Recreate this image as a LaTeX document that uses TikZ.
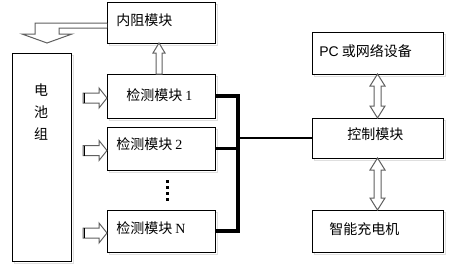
\documentclass[tikz,border=0pt]{standalone}
\usepackage{fontspec}
\newfontfamily\cjk{Noto Sans CJK SC}
\newfontfamily\lat{Liberation Serif}
\newfontfamily\lats{Liberation Sans}
\usetikzlibrary{calc}
\newcommand{\pxbox}[5]{%
  \draw[gray!25, line width=0.75pt] ({#2+2},{#3+2}) rectangle ({#4+2},{#5+2});
  \node[box, minimum width={(#4-#2)*0.75pt}, minimum height={(#5-#3)*0.75pt}] (#1) at ({(#2+#4)/2},{(#3+#5)/2}) {};}
\begin{document}
\begin{tikzpicture}[x=0.75pt,y=-0.75pt,
  box/.style={draw=black, line width=0.75pt, fill=white, inner sep=0pt, outer sep=0pt},
  lbl/.style={anchor=west, inner sep=0pt, font=\cjk\fontsize{10.5}{12}\selectfont},
  blk/.style={draw=gray!75!black, fill=white, line width=0.75pt, line join=miter},
  bus/.style={line width=2.6pt, black, line join=miter},
  link/.style={line width=1.6pt, black}]
\fill[white] (0,0) rectangle (452,264);
\useasboundingbox (0,0) rectangle (452,264);
% boxes
\pxbox{bat}{12}{53}{71}{261}
\pxbox{nz}{107}{2}{215}{43}
\pxbox{d1}{107}{74}{215}{118}
\pxbox{d2}{107}{127}{215}{170}
\pxbox{dn}{107}{210}{215}{252}
\pxbox{pc}{312}{32}{443}{74}
\pxbox{ctl}{312}{118}{443}{158}
\pxbox{chg}{312}{210}{443}{252}
% texts
\node[lbl, anchor=center] (b1) at (41,90) {电};
\node[lbl, anchor=center] (b2) at (41,112) {池};
\node[lbl, anchor=center] (b3) at (41,134) {组};
\node[lbl] (nzt) at (116,20) {内阻模块};
\node[lbl] (d1t) at (126,95) {检测模块\ {\lat 1}};
\node[lbl] (d2t) at (116,144) {检测模块\ {\lat 2}};
\node[lbl] (dnt) at (116,228) {检测模块\ {\lat N}};
\node[lbl] (pct) at (319,51) {{\lats PC}\ 或网络设备};
\node[lbl] (ctlt) at (347,134) {控制模块};
\node[lbl] (chgt) at (329,229) {智能充电机};
% bus
\coordinate (bx) at (238,0);
\draw[bus] (d1.east) -- (d1.east -| bx) -- (dn.east -| bx) -- (dn.east);
\draw[bus] (d2.east) -- (d2.east -| bx);
\draw[link] (ctl.west -| bx) -- (ctl.west);
% dots
\foreach \yy in {180,186,192,198}
  \fill[black] (166,\yy) rectangle (168.5,{\yy+2.5});
% input arrows
\foreach \b in {d1,d2,dn}{
  \draw[blk] ($(\b.west)+(0,2)$) -- ++(-8,-10) -- ++(0,5) -- ++(-16,0) -- ++(0,10) -- ++(16,0) -- ++(0,5) -- cycle;
  \draw[black, line width=1pt] ($(\b.west)+(-22.5,-3)$) -- ++(0,10);
}
% up arrow d1 -> nz
\draw[blk] ($(d1.north)+(-5,0)$) -- ($(nz.south)+(-5,10)$) -- ($(nz.south)+(-8,10)$) -- ($(nz.south)+(-2,0)$) -- ($(nz.south)+(4,10)$) -- ($(nz.south)+(1,10)$) -- ($(d1.north)+(1,0)$) -- cycle;
% double arrows
\draw[blk] (pc.south) -- ++(7.5,12) -- ++(-4,0) -- ($(ctl.north)+(3.5,-12)$) -- ++(4,0) -- (ctl.north) -- ++(-7.5,-12) -- ++(4,0) -- ($(pc.south)+(-3.5,12)$) -- ++(-4,0) -- cycle;
\draw[blk] (ctl.south) -- ++(7.5,12) -- ++(-4,0) -- ($(chg.north)+(3.5,-12)$) -- ++(4,0) -- (chg.north) -- ++(-7.5,-12) -- ++(4,0) -- ($(ctl.south)+(-3.5,12)$) -- ++(-4,0) -- cycle;
% bent arrow nz -> bat
\draw[blk] ($(nz.west)+(0,0.5)$) -- ++(-72,0) -- ++(0,11) -- ++(-13,0) -- ++(25,9) -- ++(25,-9) -- ++(-13,0) -- ++(0,-6) -- ++(48,0);
\end{tikzpicture}
\end{document}
